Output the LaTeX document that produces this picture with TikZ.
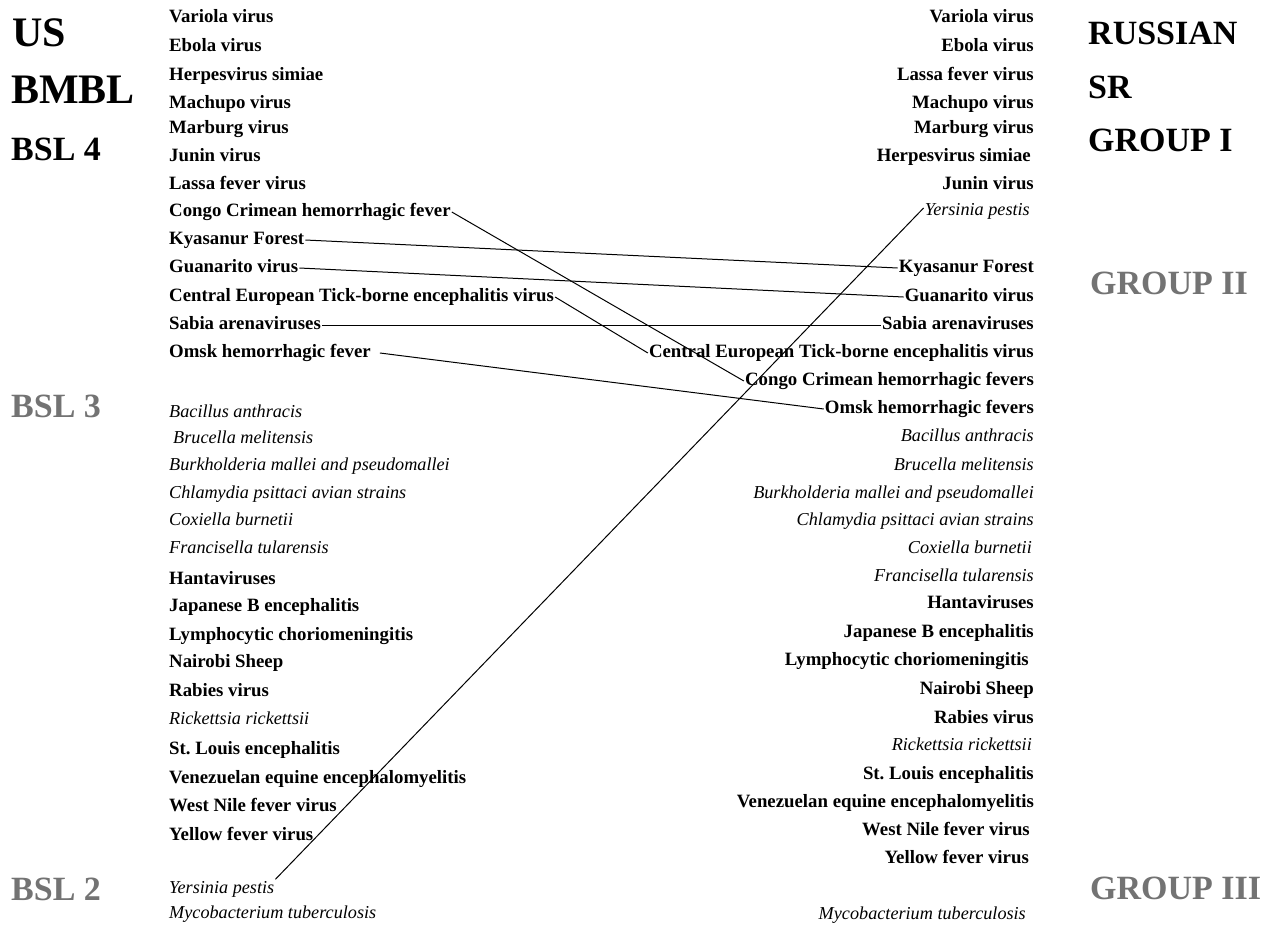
\documentclass[tikz,border=0pt]{standalone}
\usepackage{fontspec}
\setmainfont{Liberation Serif}
\begin{document}
\begin{tikzpicture}[x=1pt,y=-1pt,
  item/.style={inner sep=1pt,text height=13pt,text depth=4pt},
  lb/.style={item,anchor=west,font=\bfseries\fontsize{18.8}{20}\selectfont},
  li/.style={item,anchor=west,font=\itshape\fontsize{18.2}{20}\selectfont},
  rb/.style={item,anchor=east,font=\bfseries\fontsize{18.8}{20}\selectfont},
  ri/.style={item,anchor=east,font=\itshape\fontsize{18.2}{20}\selectfont},
  bighead/.style={anchor=west,inner sep=0pt,font=\bfseries\fontsize{42}{44}\selectfont},
  head/.style={anchor=west,inner sep=0pt,font=\bfseries\fontsize{34}{36}\selectfont},
  greyhead/.style={head,text=black!55},
  link/.style={draw=black,line width=1pt}]
\useasboundingbox (0,0) rectangle (1275,930);

% left headers
\node[bighead] (hus) at (12,33) {US};
\node[bighead] (hbmbl) at (11,90) {BMBL};
\node[head] (hbsl4) at (11,149) {BSL 4};
\node[greyhead] (hbsl3) at (11,406) {BSL 3};
\node[greyhead] (hbsl2) at (11,889) {BSL 2};

% right headers
\node[head] (hrus) at (1088,33) {RUSSIAN};
\node[head] (hsr) at (1088,87) {SR};
\node[head] (hg1) at (1088,140) {GROUP I};
\node[greyhead] (hg2) at (1090,283) {GROUP II};
\node[greyhead] (hg3) at (1090,888) {GROUP III};

% left column
\node[lb] (lvar) at (168,18) {Variola virus};
\node[lb] (lebo) at (168,47) {Ebola virus};
\node[lb] (lher) at (168,76) {Herpesvirus simiae};
\node[lb] (lmac) at (168,104) {Machupo virus};
\node[lb] (lmar) at (168,129) {Marburg virus};
\node[lb] (ljun) at (168,157) {Junin virus};
\node[lb] (llas) at (168,185) {Lassa fever virus};
\node[lb] (lcon) at (168,212) {Congo Crimean hemorrhagic fever};
\node[lb] (lkya) at (168,240) {Kyasanur Forest};
\node[lb] (lgua) at (168,268) {Guanarito virus};
\node[lb] (lcen) at (168,297) {Central European Tick-borne encephalitis virus};
\node[lb] (lsab) at (168,325) {Sabia arenaviruses};
\node[lb] (loms) at (168,353) {Omsk hemorrhagic fever};
\node[li] (lbac) at (168,413) {Bacillus anthracis};
\node[li] (lbru) at (172,439) {Brucella melitensis};
\node[li] (lbur) at (168,466) {Burkholderia mallei and pseudomallei};
\node[li] (lchl) at (168,494) {Chlamydia psittaci avian strains};
\node[li] (lcox) at (168,521) {Coxiella burnetii};
\node[li] (lfra) at (168,549) {Francisella tularensis};
\node[lb] (lhan) at (168,580) {Hantaviruses};
\node[lb] (ljap) at (168,607) {Japanese B encephalitis};
\node[lb] (llym) at (168,636) {Lymphocytic choriomeningitis};
\node[lb] (lnai) at (168,663) {Nairobi Sheep};
\node[lb] (lrab) at (168,692) {Rabies virus};
\node[li] (lric) at (168,720) {Rickettsia rickettsii};
\node[lb] (lstl) at (168,750) {St.\ Louis encephalitis};
\node[lb] (lven) at (168,779) {Venezuelan equine encephalomyelitis};
\node[lb] (lwes) at (168,807) {West Nile fever virus};
\node[lb] (lyel) at (168,836) {Yellow fever virus};
\node[li] (lyer) at (168,889) {Yersinia pestis};
\node[li] (lmyc) at (168,914) {Mycobacterium tuberculosis};

% right column
\node[rb] (rvar) at (1035,18) {Variola virus};
\node[rb] (rebo) at (1035,47) {Ebola virus};
\node[rb] (rlas) at (1035,76) {Lassa fever virus};
\node[rb] (rmac) at (1035,104) {Machupo virus};
\node[rb] (rmar) at (1035,129) {Marburg virus};
\node[rb] (rher) at (1032,157) {Herpesvirus simiae};
\node[rb] (rjun) at (1035,185) {Junin virus};
\node[ri] (ryer) at (1031,211) {Yersinia pestis};
\node[rb] (rkya) at (1035,268) {Kyasanur Forest};
\node[rb] (rgua) at (1035,297) {Guanarito virus};
\node[rb] (rsab) at (1035,325) {Sabia arenaviruses};
\node[rb] (rcen) at (1035,353) {Central European Tick-borne encephalitis virus};
\node[rb] (rcon) at (1035,381) {Congo Crimean hemorrhagic fevers};
\node[rb] (roms) at (1035,409) {Omsk hemorrhagic fevers};
\node[ri] (rbac) at (1035,437) {Bacillus anthracis};
\node[ri] (rbru) at (1035,466) {Brucella melitensis};
\node[ri] (rbur) at (1035,494) {Burkholderia mallei and pseudomallei};
\node[ri] (rchl) at (1035,521) {Chlamydia psittaci avian strains};
\node[ri] (rcox) at (1033,549) {Coxiella burnetii};
\node[ri] (rfra) at (1035,577) {Francisella tularensis};
\node[rb] (rhan) at (1035,604) {Hantaviruses};
\node[rb] (rjap) at (1035,633) {Japanese B encephalitis};
\node[rb] (rlym) at (1030,661) {Lymphocytic choriomeningitis};
\node[rb] (rnai) at (1035,690) {Nairobi Sheep};
\node[rb] (rrab) at (1035,719) {Rabies virus};
\node[ri] (rric) at (1033,746) {Rickettsia rickettsii};
\node[rb] (rstl) at (1035,775) {St.\ Louis encephalitis};
\node[rb] (rven) at (1035,803) {Venezuelan equine encephalomyelitis};
\node[rb] (rwes) at (1031,831) {West Nile fever virus};
\node[rb] (ryel) at (1030,859) {Yellow fever virus};
\node[ri] (rmyc) at (1027,915) {Mycobacterium tuberculosis};

% connectors
\draw[link] (lcon.east) -- (rcon.west);
\draw[link] (lkya.east) -- (rkya.west);
\draw[link] (lgua.east) -- (rgua.west);
\draw[link] (lcen.east) -- (rcen.west);
\draw[link] (lsab.east) -- (rsab.west);
\draw[link] ([xshift=8pt]loms.east) -- (roms.west);
\draw[link] (lyer.north east) -- ([yshift=3pt]ryer.west);
\end{tikzpicture}
\end{document}
